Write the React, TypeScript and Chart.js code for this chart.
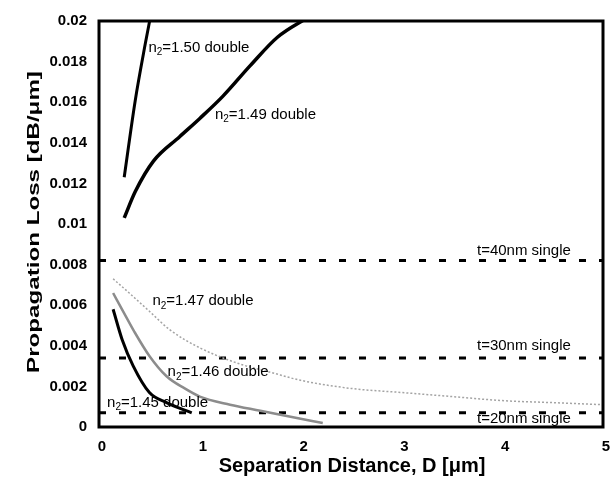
import React, { useEffect, useRef } from 'react';
import { Chart, registerables } from 'chart.js';

Chart.register(...registerables);

const FONT = '"Liberation Sans", Arial, Helvetica, sans-serif';

// n2 = 1.50 double
const d150 = [0.25, 0.36, 0.46, 0.51];
const l150 = [0.0123, 0.0161, 0.0189, 0.0202];
// n2 = 1.49 double
const d149 = [0.25, 0.36, 0.54, 0.8, 1.0, 1.23, 1.5, 1.77, 2.08];
const l149 = [0.0103, 0.0116, 0.0131, 0.0143, 0.0152, 0.0163, 0.0178, 0.0192, 0.0202];
// n2 = 1.47 double
const d147 = [0.14, 0.3, 0.5, 0.7, 1.0, 1.4, 1.7, 2.0, 2.5, 3.0, 3.5, 4.0, 4.5, 5.0];
const l147 = [0.0073, 0.0066, 0.0057, 0.0048, 0.0039, 0.0031, 0.0027, 0.0023, 0.0019, 0.0017, 0.0015, 0.0013, 0.0012, 0.0011];
// n2 = 1.46 double
const d146 = [0.14, 0.25, 0.35, 0.5, 0.67, 0.85, 1.0, 1.3, 1.6, 1.9, 2.22];
const l146 = [0.0066, 0.0056, 0.0047, 0.0035, 0.0025, 0.0019, 0.0015, 0.0011, 0.0008, 0.0005, 0.0002];
// n2 = 1.45 double
const d145 = [0.14, 0.23, 0.34, 0.5, 0.67, 0.92];
const l145 = [0.0058, 0.0043, 0.003, 0.0017, 0.0012, 0.0007];
// single-layer reference levels
const singleThickness = ['t=40nm single', 't=30nm single', 't=20nm single'];
const singleLoss = [0.0082, 0.0034, 0.0007];
const singleRange = [0, 5];

// axes
const xTicks = [0, 1, 2, 3, 4, 5];
const yTicks = [0, 0.002, 0.004, 0.006, 0.008, 0.01, 0.012, 0.014, 0.016, 0.018, 0.02];

// curve labels (text, anchored in data coordinates: left edge / vertical middle)
const labelText = ['n_2=1.50 double', 'n_2=1.49 double', 'n_2=1.47 double', 'n_2=1.46 double', 'n_2=1.45 double', ...singleThickness];
const labelD = [0.49, 1.15, 0.53, 0.68, 0.08, 3.75, 3.75, 3.75];
const labelLoss = [0.0187, 0.0154, 0.0062, 0.0027, 0.0012, 0.0087, 0.004, 0.0004];

const xTitle = 'Separation Distance, D [\u03bcm]';
const yTitle = 'Propagation Loss [dB/\u03bcm]';

const pts = (xs: number[], ys: number[]) => xs.map((x, i) => ({ x, y: ys[i] }));

const drawLabel = (ctx: CanvasRenderingContext2D, text: string, x: number, y: number) => {
  const parts = text.split('_2');
  ctx.textAlign = 'left';
  ctx.textBaseline = 'middle';
  ctx.fillStyle = '#000';
  ctx.font = `15px ${FONT}`;
  if (parts.length === 1) {
    ctx.fillText(text, x, y);
    return;
  }
  ctx.fillText(parts[0], x, y);
  let cx = x + ctx.measureText(parts[0]).width;
  ctx.font = `10px ${FONT}`;
  ctx.fillText('2', cx, y + 5);
  cx += ctx.measureText('2').width;
  ctx.font = `15px ${FONT}`;
  ctx.fillText(parts[1], cx, y);
};

const decorPlugin = {
  id: 'decor',
  afterDraw(chart: any) {
    const { ctx, chartArea, scales } = chart;
    const { left, right, top, bottom } = chartArea;
    ctx.save();
    labelText.forEach((t, i) => {
      drawLabel(ctx, t, scales.x.getPixelForValue(labelD[i]), scales.y.getPixelForValue(labelLoss[i]));
    });
    ctx.strokeStyle = '#000';
    ctx.lineWidth = 3;
    ctx.setLineDash([]);
    ctx.strokeRect(left, top, right - left, bottom - top);
    ctx.fillStyle = '#000';
    ctx.textAlign = 'center';
    ctx.textBaseline = 'middle';
    ctx.font = `bold 20px ${FONT}`;
    ctx.fillText(xTitle, (left + right) / 2 + 1, bottom + 39);
    ctx.save();
    ctx.translate(34, (top + bottom) / 2 - 2);
    ctx.rotate(-Math.PI / 2);
    ctx.scale(1.42, 1);
    ctx.font = `bold 17px ${FONT}`;
    ctx.fillText(yTitle, 0, 0);
    ctx.restore();
    ctx.restore();
  },
};

export default function App() {
  const ref = useRef<HTMLCanvasElement>(null);
  useEffect(() => {
    document.body.style.margin = '0';
    const line = (data: any, color: string, width: number, dash: number[] = []) => ({
      data,
      borderColor: color,
      borderWidth: width,
      borderDash: dash,
      pointRadius: 0,
      fill: false,
      tension: 0.3,
      cubicInterpolationMode: 'monotone',
    });
    const datasets: any[] = [
      line(pts(d150, l150), '#000', 3),
      line(pts(d149, l149), '#000', 3.5),
      line(pts(d147, l147), '#a4a4a4', 1.5, [2, 2]),
      line(pts(d146, l146), '#8c8c8c', 2.5),
      line(pts(d145, l145), '#000', 3),
      ...singleLoss.map((v) => line(singleRange.map((x) => ({ x, y: v })), '#000', 3, [7, 13])),
    ];
    const chart = new Chart(ref.current as HTMLCanvasElement, {
      type: 'line',
      data: { datasets },
      options: {
        animation: false,
        responsive: false,
        devicePixelRatio: 1,
        layout: { padding: { top: 21, right: 12, left: 0, bottom: 0 } },
        plugins: { legend: { display: false }, tooltip: { enabled: false } },
        scales: {
          x: {
            type: 'linear',
            min: 0,
            max: 5,
            grid: { display: false, drawTicks: false },
            border: { display: false },
            afterBuildTicks: (s: any) => { s.ticks = xTicks.map((v) => ({ value: v })); },
            afterFit: (s: any) => { s.height = 57; },
            ticks: {
              padding: 0,
              labelOffset: 3,
              color: '#000',
              font: { family: FONT, size: 15, weight: 'bold', lineHeight: 2.6 },
              callback: (v: any) => String(v),
            },
          },
          y: {
            type: 'linear',
            min: 0,
            max: 0.02,
            grid: { display: false, drawTicks: false },
            border: { display: false },
            afterBuildTicks: (s: any) => { s.ticks = yTicks.map((v) => ({ value: v })); },
            afterFit: (s: any) => { s.width = 99; },
            ticks: {
              padding: 12,
              autoSkip: false,
              color: '#000',
              font: { family: FONT, size: 15, weight: 'bold' },
              callback: (v: any) => String(parseFloat(Number(v).toFixed(3))),
            },
          },
        },
      } as any,
      plugins: [decorPlugin],
    });
    return () => chart.destroy();
  }, []);
  return (
    <div style={{ width: 615, height: 484, background: '#fff' }}>
      <canvas ref={ref} width={615} height={484} style={{ display: 'block' }} />
    </div>
  );
}
